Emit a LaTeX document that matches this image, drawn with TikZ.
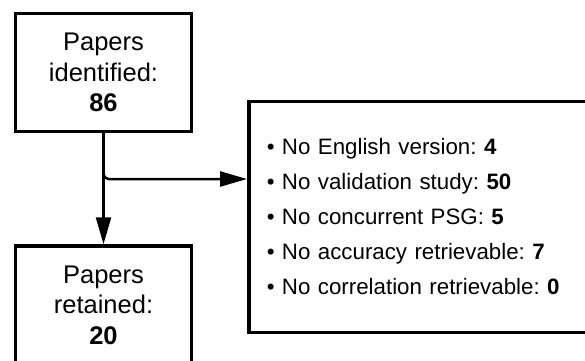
\documentclass[tikz,border=0pt]{standalone}
\usepackage{fontspec}
\setmainfont{Liberation Sans}
\usetikzlibrary{arrows.meta}
\tikzset{>={Triangle[length=27pt,width=15pt]}}
\frenchspacing

\begin{document}
\begin{tikzpicture}[x=1pt, y=1pt]
        % retained and excluded boxes run off the page edge
        \tikzstyle{countbox}=[draw=black, line width=3.5pt, minimum width=176pt, minimum height=118pt, align=center, inner sep=0pt, font=\fontsize{25.5}{30.5}\selectfont]
        \tikzstyle{every edge}=[black, ->, line width=2.5pt, draw]
        \useasboundingbox (0,0) rectangle (585,360);
        \clip (0,0) rectangle (585,360);
        \node[countbox] (identified) at (103.5,287.5) {Papers\\identified:\\\textbf{86}};
        \node[countbox] (retained) at (103.5,55) {Papers\\retained:\\\textbf{20}};
        \node[countbox, anchor=west, align=left, text width=340pt, inner xsep=18pt, minimum height=231pt,
              font=\fontsize{22.3}{35}\selectfont] (excluded) at (247,143)
              {\textbullet\ No English version: \textbf{4}\\
               \textbullet\ No validation study: \textbf{50}\\
               \textbullet\ No concurrent PSG: \textbf{5}\\
               \textbullet\ No accuracy retrievable: \textbf{7}\\
               \textbullet\ No correlation retrievable: \textbf{0}};
        \draw (identified) edge (retained);
        \draw[->, line width=2.5pt, rounded corners=5pt] (identified.south) |- ([yshift=38pt]excluded.west);
\end{tikzpicture}
\end{document}
